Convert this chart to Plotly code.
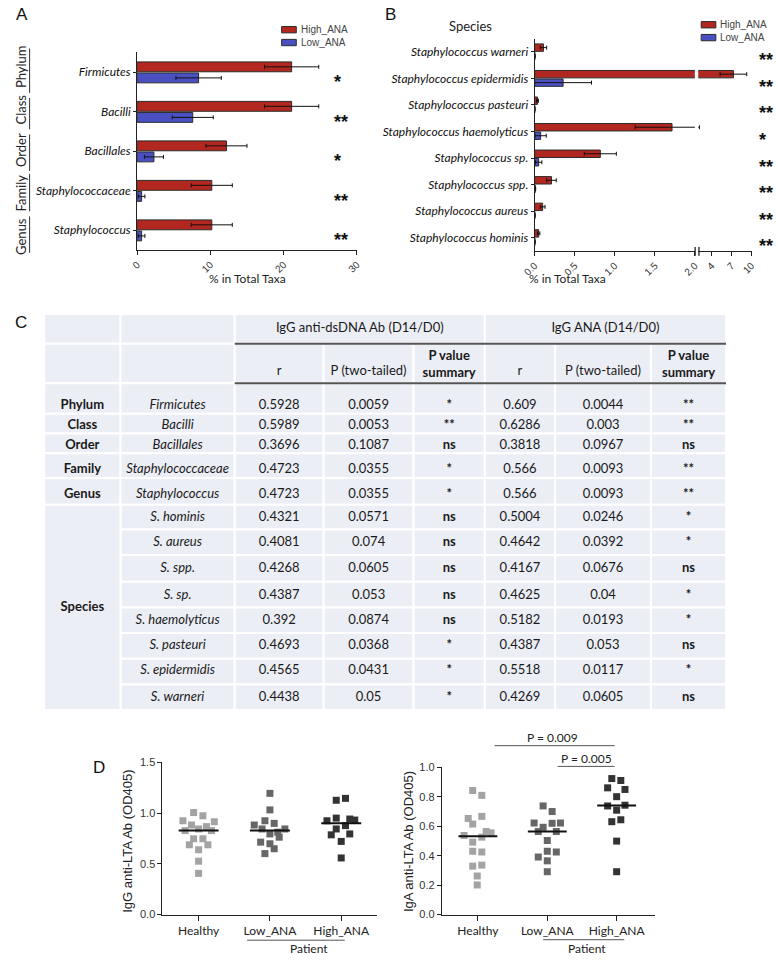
import numpy as np
import plotly.graph_objects as go

# ---------------- DATA ----------------
# Panel A: % in total taxa (mean, SEM)
A_taxa = ["Firmicutes", "Bacilli", "Bacillales", "Staphylococcaceae", "Staphylococcus"]
A_rank = ["Phylum", "Class", "Order", "Family", "Genus"]
A_high = [21.1, 21.1, 12.2, 10.2, 10.2]
A_high_err = [3.7, 3.7, 2.8, 2.8, 2.8]
A_low = [8.4, 7.6, 2.3, 0.62, 0.62]
A_low_err = [3.1, 2.8, 1.3, 0.45, 0.45]
A_sig = ["*", "**", "*", "**", "**"]

# Panel B: species
B_species = ["Staphylococcus warneri", "Staphylococcus epidermidis", "Staphylococcus pasteuri",
             "Staphylococcus haemolyticus", "Staphylococcus sp.", "Staphylococcus spp.",
             "Staphylococcus aureus", "Staphylococcus hominis"]
B_high = [0.11, 7.28, 0.035, 1.715, 0.82, 0.21, 0.10, 0.05]
B_high_err = [0.04, 2.0, 0.012, 0.46, 0.20, 0.06, 0.03, 0.015]
B_low = [0.004, 0.355, 0.003, 0.075, 0.05, 0.008, 0.004, 0.004]
B_low_err = [0.003, 0.355, 0.002, 0.07, 0.04, 0.005, 0.003, 0.003]
B_sig = ["**", "**", "**", "*", "**", "**", "**", "**"]
B_ticks1 = [0, 0.5, 1.0, 1.5, 2.0]
B_ticks2 = [4, 7, 10]

# Panel C: correlation table
T_rank = ["Phylum", "Class", "Order", "Family", "Genus", "Species"]
T_taxa = ["Firmicutes", "Bacilli", "Bacillales", "Staphylococcaceae", "Staphylococcus",
          "S. hominis", "S. aureus", "S. spp.", "S. sp.", "S. haemolyticus",
          "S. pasteuri", "S. epidermidis", "S. warneri"]
ds_r = ["0.5928", "0.5989", "0.3696", "0.4723", "0.4723", "0.4321", "0.4081", "0.4268",
        "0.4387", "0.392", "0.4693", "0.4565", "0.4438"]
ds_p = ["0.0059", "0.0053", "0.1087", "0.0355", "0.0355", "0.0571", "0.074", "0.0605",
        "0.053", "0.0874", "0.0368", "0.0431", "0.05"]
ds_sum = ["*", "**", "ns", "*", "*", "ns", "ns", "ns", "ns", "ns", "*", "*", "*"]
ana_r = ["0.609", "0.6286", "0.3818", "0.566", "0.566", "0.5004", "0.4642", "0.4167",
         "0.4625", "0.5182", "0.4387", "0.5518", "0.4269"]
ana_p = ["0.0044", "0.003", "0.0967", "0.0093", "0.0093", "0.0246", "0.0392", "0.0676",
         "0.04", "0.0193", "0.053", "0.0117", "0.0605"]
ana_sum = ["**", "**", "ns", "**", "**", "*", "*", "ns", "*", "*", "ns", "*", "ns"]

# Panel D: anti-LTA antibodies (values and horizontal jitter of each dot)
groups = ["Healthy", "Low_ANA", "High_ANA"]
igg_healthy = [1.006, 0.974, 0.925, 0.915, 0.883, 0.867, 0.828, 0.844, 0.828, 0.747, 0.747, 0.688, 0.688, 0.639, 0.526, 0.406]
igg_healthy_jit = [-0.07, 0.06, -0.22, 0.22, -0.10, 0.11, -0.19, 0.0, 0.18, -0.07, 0.06, -0.13, 0.13, 0.0, 0.0, 0.0]
igg_low = [1.195, 1.032, 0.925, 0.883, 0.899, 0.844, 0.844, 0.795, 0.812, 0.763, 0.714, 0.698, 0.649, 0.601]
igg_low_jit = [0.0, 0.0, -0.07, -0.22, 0.06, -0.11, 0.21, 0.0, 0.11, 0.13, -0.13, 0.0, 0.06, -0.07]
igg_high = [1.127, 1.146, 0.925, 0.951, 0.942, 0.932, 0.844, 0.877, 0.786, 0.795, 0.721, 0.558]
igg_high_jit = [-0.07, 0.06, -0.20, -0.07, 0.12, 0.19, -0.07, 0.06, -0.14, 0.12, 0.0, 0.0]
iga_healthy = [0.843, 0.810, 0.653, 0.667, 0.615, 0.537, 0.526, 0.564, 0.555, 0.492, 0.430, 0.425, 0.329, 0.336, 0.262, 0.201]
iga_healthy_jit = [-0.075, 0.056, -0.14, 0.056, -0.075, -0.20, 0.056, 0.12, 0.19, -0.075, -0.075, 0.056, -0.075, 0.056, -0.01, -0.01]
iga_low = [0.738, 0.700, 0.622, 0.593, 0.620, 0.622, 0.564, 0.564, 0.503, 0.430, 0.425, 0.391, 0.365, 0.291]
iga_low_jit = [-0.06, 0.07, -0.19, -0.06, 0.07, 0.19, -0.13, 0.13, 0.0, 0.0, 0.13, -0.13, 0.0, 0.0]
iga_high = [0.924, 0.911, 0.861, 0.850, 0.801, 0.738, 0.743, 0.709, 0.631, 0.644, 0.499, 0.291]
iga_high_jit = [-0.07, 0.06, -0.13, 0.12, 0.0, -0.13, 0.12, 0.0, -0.07, 0.06, 0.0, 0.0]
iga_pvals = ["P = 0.009", "P = 0.005"]

# ---------------- STYLE / LAYOUT HELPERS ----------------
W, H = 778, 963
def px(x): return x / W
def py(y): return 1 - y / H

RED = "#b2271f"
BLUE = "#4a50c2"
EDGE = "#2b2b2b"
ARIAL = "Liberation Sans, Arial, sans-serif"
CAL = "Lato, sans-serif"
TBG = "#eceef6"
GREYS = ["#a3a3a3", "#666666", "#333333"]

fig = go.Figure()
shapes = []
ann = []

def A_(**kw):
    d = dict(showarrow=False, xanchor="center", yanchor="middle")
    d.update(kw)
    ann.append(d)

def bar_err(arr):
    return dict(type="data", array=arr, color="#111", thickness=1, width=2)

STAR = dict(family=ARIAL, size=18, color="#111", weight="bold")

# ---------------- PANEL A ----------------
yA = np.arange(len(A_taxa))
fig.add_trace(go.Bar(name="High_ANA", x=A_high, y=yA, orientation="h", width=0.25, offset=-0.26,
                     marker=dict(color=RED, line=dict(color=EDGE, width=1)),
                     error_x=bar_err(A_high_err), xaxis="x", yaxis="y"))
fig.add_trace(go.Bar(name="Low_ANA", x=A_low, y=yA, orientation="h", width=0.25, offset=0.02,
                     marker=dict(color=BLUE, line=dict(color=EDGE, width=1)),
                     error_x=bar_err(A_low_err), xaxis="x", yaxis="y"))
for i, s in enumerate(A_sig):
    A_(xref="x", yref="y", x=26.6, y=i + 0.25, text=s, xanchor="left", font=STAR)
rank_cy = [61, 105, 146, 189, 233]
rank_span = [(43, 88), (93, 125), (130, 167), (170, 208), (213, 250)]
for rk, cy, (s0, s1) in zip(A_rank, rank_cy, rank_span):
    A_(xref="paper", yref="paper", x=px(8), y=py(cy), text=rk, textangle=-90,
       font=dict(family=CAL, size=13, color="#222"))
    shapes.append(dict(type="line", xref="paper", yref="paper", x0=px(17), x1=px(17), y0=py(s0), y1=py(s1),
                       line=dict(color="#333", width=1)))

# ---------------- PANEL B ----------------
yB = np.arange(len(B_species))
for xa in ["x2", "x3"]:
    fig.add_trace(go.Bar(name="High_ANA", x=B_high, y=yB, orientation="h", width=0.28, offset=-0.30,
                         marker=dict(color=RED, line=dict(color=EDGE, width=1)),
                         error_x=bar_err(B_high_err), xaxis=xa, yaxis="y2"))
    fig.add_trace(go.Bar(name="Low_ANA", x=B_low, y=yB, orientation="h", width=0.28, offset=0.02,
                         marker=dict(color=BLUE, line=dict(color=EDGE, width=1)),
                         error_x=bar_err(B_low_err), xaxis=xa, yaxis="y2"))
for i, s in enumerate(B_sig):
    A_(xref="x3", yref="y2", x=10, y=i + 0.32, text=s, xanchor="left", xshift=5, font=STAR)
# axis break marks
for xb in [698.3, 702.2]:
    shapes.append(dict(type="line", xref="paper", yref="paper", x0=px(xb), x1=px(xb),
                       y0=py(244), y1=py(253), line=dict(color="#222", width=1.3)))

# legends (A and B)
for (lx, ly) in [(275, 24), (704.5, 19)]:
    for k, (col, name) in enumerate([(RED, "High_ANA"), (BLUE, "Low_ANA")]):
        yc = ly + 13 * k
        shapes.append(dict(type="rect", xref="paper", yref="paper", x0=px(lx), x1=px(lx + 15),
                           y0=py(yc - 3.2), y1=py(yc + 3.2), fillcolor=col, line=dict(color=EDGE, width=1)))
        A_(xref="paper", yref="paper", x=px(lx + 17.5), y=py(yc), text=name, xanchor="left",
           font=dict(family=ARIAL, size=10, color="#444"))

# ---------------- PANEL C (table) ----------------
col_edges = [0, 78, 195, 286, 378, 451, 523, 621, 698]
row_edges = [70, 101, 121, 141, 166, 193, 218, 244, 271, 297, 323, 349, 375, 401]
text_y = [93, 113, 133, 158, 183, 206, 232, 258, 285, 311, 336, 361, 388]
ccen = [(col_edges[i] + col_edges[i + 1]) / 2 for i in range(8)]

def tcell(x0, x1, y0, y1):
    shapes.append(dict(type="rect", xref="x4", yref="y4", x0=x0, x1=x1, y0=y0, y1=y1,
                       fillcolor=TBG, line=dict(color="white", width=2), layer="below"))

ce = col_edges
tcell(ce[0], ce[1], 0, 30); tcell(ce[1], ce[2], 0, 30)
tcell(ce[2], ce[5], 0, 30); tcell(ce[5], ce[8], 0, 30)
for c in range(8):
    tcell(ce[c], ce[c + 1], 30, 70)
n_single = len(T_rank) - 1
for r in range(len(T_taxa)):
    for c in range(8):
        if c == 0 and r >= n_single:
            continue
        tcell(ce[c], ce[c + 1], row_edges[r], row_edges[r + 1])
tcell(ce[0], ce[1], row_edges[n_single], row_edges[-1])
for yy in [30, 70]:
    shapes.append(dict(type="line", xref="x4", yref="y4", x0=ce[2], x1=ce[8], y0=yy, y1=yy,
                       line=dict(color="#555", width=2)))

TXT = "#1a1a1a"
def ttext(xs, ys, texts, weight="normal", style="normal"):
    fig.add_trace(go.Scatter(x=xs, y=ys, text=texts, mode="text", textposition="middle center",
                             textfont=dict(family=CAL, size=13, color=TXT, weight=weight, style=style),
                             xaxis="x4", yaxis="y4", hoverinfo="skip", cliponaxis=False))

rank_y = text_y[:n_single] + [(row_edges[n_single] + row_edges[-1]) / 2]
ttext([ccen[0]] * len(T_rank), rank_y, T_rank, weight="bold")
ttext([ccen[1]] * len(T_taxa), text_y, T_taxa, style="italic")
ttext([ccen[2]] * len(ds_r), text_y, ds_r)
ttext([ccen[3]] * len(ds_p), text_y, ds_p)
ttext([ccen[4]] * len(ds_sum), text_y, ds_sum, weight="bold")
ttext([ccen[5]] * len(ana_r), text_y, ana_r)
ttext([ccen[6]] * len(ana_p), text_y, ana_p)
ttext([ccen[7]] * len(ana_sum), text_y, ana_sum, weight="bold")
ttext([(ce[2] + ce[5]) / 2, (ce[5] + ce[8]) / 2], [15, 15],
      ["IgG anti-dsDNA Ab (D14/D0)", "IgG ANA (D14/D0)"])
ttext([ccen[2], ccen[3], ccen[5], ccen[6]], [58] * 4, ["r", "P (two-tailed)", "r", "P (two-tailed)"])
ttext([ccen[4], ccen[7]], [52, 52], ["P value<br>summary", "P value<br>summary"], weight="bold")

# ---------------- PANEL D ----------------
igg = [(igg_healthy, igg_healthy_jit), (igg_low, igg_low_jit), (igg_high, igg_high_jit)]
iga = [(iga_healthy, iga_healthy_jit), (iga_low, iga_low_jit), (iga_high, iga_high_jit)]
for sets, xa, ya in [(igg, "x5", "y5"), (iga, "x6", "y6")]:
    for i, (vals, jit) in enumerate(sets):
        fig.add_trace(go.Scatter(x=i + np.array(jit), y=vals, mode="markers", name=groups[i],
                                 marker=dict(symbol="square", size=7, color=GREYS[i], line=dict(width=0)),
                                 xaxis=xa, yaxis=ya, cliponaxis=False, hoverinfo="skip"))
        med = float(np.median(vals))
        fig.add_trace(go.Scatter(x=[i - 0.28, i + 0.28], y=[med, med], mode="lines",
                                 line=dict(color="#111", width=2), xaxis=xa, yaxis=ya, hoverinfo="skip"))

# patient brackets
shapes.append(dict(type="line", xref="x5", yref="paper", x0=0.68, x1=2.05, y0=py(946), y1=py(946),
                   line=dict(color="#555", width=1)))
shapes.append(dict(type="line", xref="x6", yref="paper", x0=0.94, x1=2.11, y0=py(945.5), y1=py(945.5),
                   line=dict(color="#555", width=1)))
A_(xref="x5", yref="paper", x=1.55, y=py(954.5), text="Patient", font=dict(family=CAL, size=12, color="#222"))
A_(xref="x6", yref="paper", x=1.57, y=py(954.5), text="Patient", font=dict(family=CAL, size=12, color="#222"))
# significance brackets on IgA
for (x0, x1, yl, yt, xt), lab in zip([(0.24, 1.97, 749, 741, 1.08), (1.15, 1.97, 770, 762, 1.56)], iga_pvals):
    shapes.append(dict(type="line", xref="x6", yref="paper", x0=x0, x1=x1, y0=py(yl), y1=py(yl),
                       line=dict(color="#555", width=1)))
    A_(xref="x6", yref="paper", x=xt, y=py(yt), text=lab, font=dict(family=CAL, size=12, color="#222"))
# y titles
A_(xref="paper", yref="paper", x=px(117), y=py(846), text="IgG anti-LTA Ab (OD405)",
   textangle=-90, font=dict(family=ARIAL, size=13, color="#222"))
A_(xref="paper", yref="paper", x=px(405), y=py(846), text="IgA anti-LTA Ab (OD405)",
   textangle=-90, font=dict(family=ARIAL, size=13, color="#222"))

# panel letters and titles
for t, (x, y) in zip(["A", "B", "C", "D"], [(9, 9), (386, 9), (8, 321), (88, 771)]):
    A_(xref="paper", yref="paper", x=px(x), y=py(y), text=t, font=dict(family=ARIAL, size=17, color="#111"))
A_(xref="paper", yref="paper", x=px(240), y=py(276), text="% in Total Taxa", font=dict(family=CAL, size=12, color="#222"))
A_(xref="paper", yref="paper", x=px(568), y=py(276), text="% in Total Taxa", font=dict(family=CAL, size=12, color="#222"))
A_(xref="paper", yref="paper", x=px(468), y=py(20), text="Species", font=dict(family=CAL, size=13, color="#222"))

# ---------------- AXES ----------------
axl = dict(showline=True, linecolor="#222", linewidth=1, showgrid=False, zeroline=False,
           ticks="outside", tickcolor="#222", tickwidth=1, fixedrange=True)
xt_font = dict(family=ARIAL, size=10, color="#333")
cat_font = dict(family=CAL, size=12, color="#111", style="italic")

fig.update_layout(
    width=W, height=H, margin=dict(l=0, r=0, t=0, b=0),
    paper_bgcolor="white", plot_bgcolor="white", showlegend=False,
    barmode="overlay", hovermode=False,
    font=dict(family=ARIAL, color="#222"),
    xaxis=dict(domain=[px(127), px(352)], range=[0, 30], tickvals=[0, 10, 20, 30], tickangle=-45,
               ticklen=4, tickfont=xt_font, anchor="y", **axl),
    yaxis=dict(domain=[py(247), py(47)], range=[4.5, -0.5], tickvals=list(yA), ticktext=A_taxa,
               ticklen=3, tickfont=cat_font, anchor="x", **axl),
    xaxis2=dict(domain=[px(534), px(698)], range=[0, 2], tickvals=B_ticks1,
                ticktext=[f"{v:.1f}" for v in B_ticks1], tickangle=-45, ticklen=4,
                tickfont=xt_font, anchor="y2", **axl),
    xaxis3=dict(domain=[px(701.5), px(756)], range=[2, 10], tickvals=B_ticks2, tickangle=-45,
                ticklen=4, tickfont=xt_font, anchor="y2", **axl),
    yaxis2=dict(domain=[py(248), py(33)], range=[7.5, -0.5], tickvals=list(yB), ticktext=B_species,
                ticklen=3, tickfont=cat_font, anchor="x2", **axl),
    xaxis4=dict(domain=[px(32), px(730)], range=[0, 698], visible=False, anchor="y4", fixedrange=True),
    yaxis4=dict(domain=[py(713), py(312)], range=[401, 0], visible=False, anchor="x4", fixedrange=True),
    xaxis5=dict(domain=[px(153), px(373)], range=[-0.507, 2.507], tickvals=[0, 1, 2], ticktext=groups,
                ticklen=5, tickfont=dict(family=CAL, size=12, color="#222"), anchor="y5", **axl),
    yaxis5=dict(domain=[py(920), py(766)], range=[0, 1.5], tickvals=[0, 0.5, 1.0, 1.5], tickformat=".1f",
                ticklen=4, tickfont=dict(family=ARIAL, size=11, color="#333"), anchor="x5", **axl),
    xaxis6=dict(domain=[px(439), px(657)], range=[-0.52, 2.55], tickvals=[0, 1, 2], ticktext=groups,
                ticklen=5, tickfont=dict(family=CAL, size=12, color="#222"), anchor="y6", **axl),
    yaxis6=dict(domain=[py(920), py(771)], range=[0, 1.0], tickvals=[0, 0.2, 0.4, 0.6, 0.8, 1.0],
                tickformat=".1f", ticklen=4, tickfont=dict(family=ARIAL, size=11, color="#333"),
                anchor="x6", **axl),
    shapes=shapes, annotations=ann,
)

# the page's default 8px body margin would shift the figure; remove it so the 778x963 figure fills the window
fig.write_html("out.html", config={"displayModeBar": False, "staticPlot": True},
               post_script="document.body.style.margin='0px';")
